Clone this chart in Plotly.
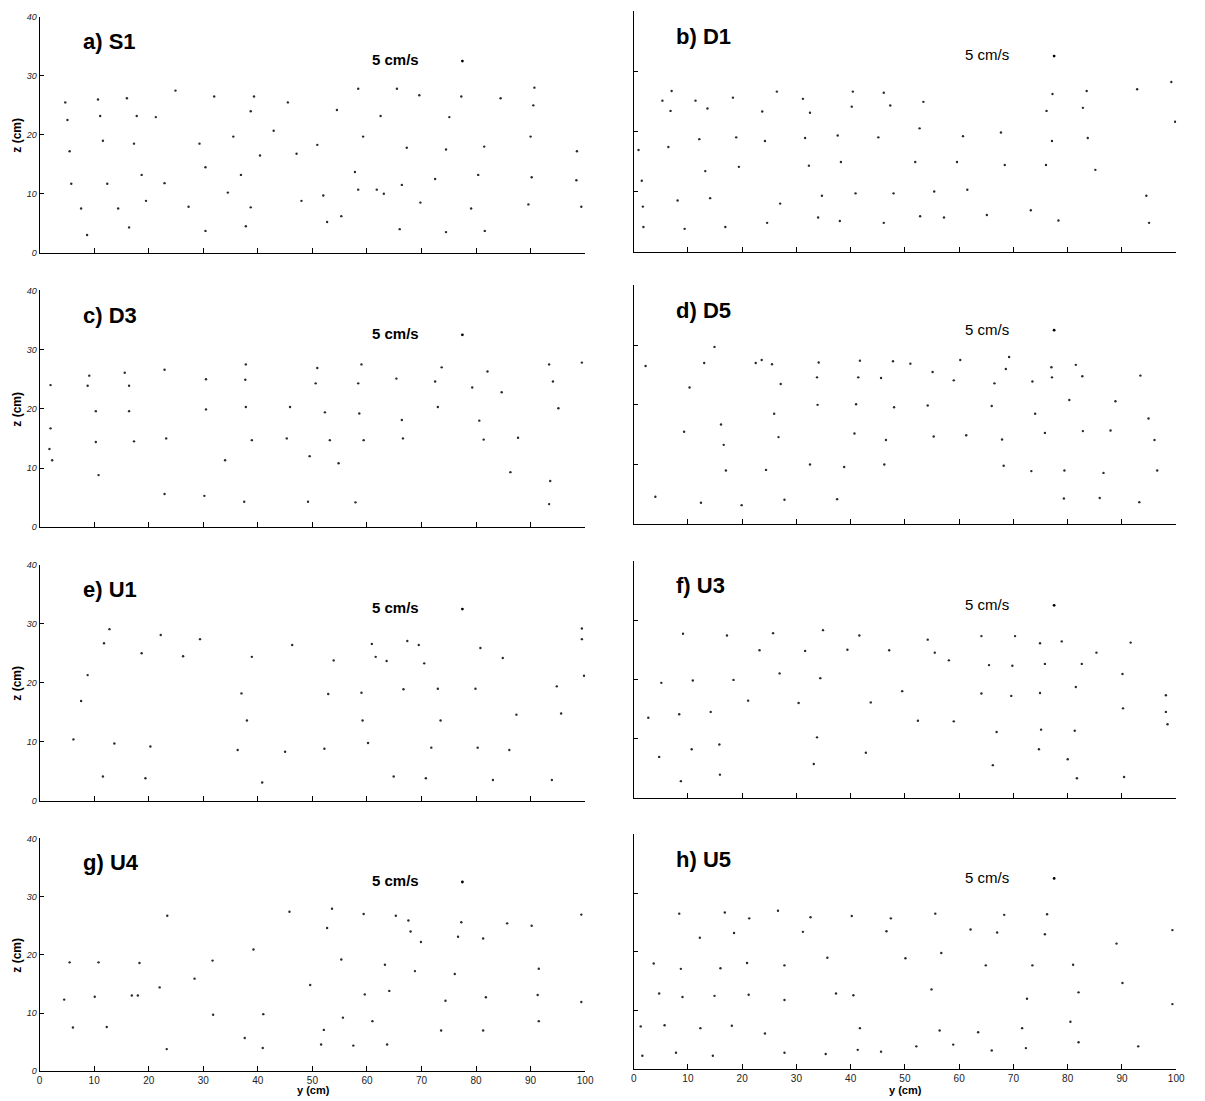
import plotly.graph_objects as go

# Measurement stations (panel label, station code)
PANELS = ["a) S1", "b) D1", "c) D3", "d) D5", "e) U1", "f) U3", "g) U4", "h) U5"]

# Cross-stream velocity vectors: (y [cm], z [cm]) of each vector base
S1 = [(4.7, 25.5), (10.7, 26), (16, 26.2), (24.9, 27.5), (32, 26.5), (39.3, 26.5), (45.5, 25.5),
      (5.1, 22.5), (11.1, 23.2), (17.8, 23.2), (21.3, 23), (38.7, 24),
      (5.5, 17.2), (11.6, 19), (17.3, 18.5), (29.3, 18.5), (35.5, 19.7), (42.9, 20.7), (40.4, 16.5),
      (47.1, 16.8), (50.9, 18.3),
      (5.8, 11.7), (12.4, 11.7), (18.7, 13.2), (22.9, 11.8), (30.4, 14.5), (36.9, 13.2), (34.5, 10.2),
      (7.6, 7.5), (14.4, 7.5), (19.5, 8.8), (27.3, 7.8), (38.7, 7.7), (48, 8.8),
      (8.7, 3), (16.4, 4.3), (30.4, 3.7), (37.8, 4.5),
      (58.4, 27.8), (65.5, 27.8), (69.6, 26.7), (77.3, 26.5), (84.5, 26.2), (90.7, 28), (90.5, 25),
      (54.5, 24.2), (62.5, 23.2), (75.1, 23),
      (59.3, 19.7), (67.3, 17.8), (74.5, 17.5), (81.5, 18), (90, 19.7), (98.5, 17.2),
      (57.8, 13.7), (72.5, 12.5), (80.4, 13.2), (90.2, 12.8), (98.4, 12.3),
      (58.4, 10.7), (61.8, 10.7), (63.1, 10), (66.4, 11.5),
      (52, 9.7), (55.3, 6.2), (52.7, 5.2), (69.8, 8.5), (79.1, 7.5), (89.6, 8.2), (99.3, 7.8),
      (66, 4), (74.5, 3.5), (81.6, 3.7)]

D1 = [(7.0, 26.7), (5.3, 25.1), (11.4, 25.1), (6.8, 23.4), (13.6, 23.8), (18.3, 25.6), (26.4, 26.6),
      (31.2, 25.4), (23.7, 23.3), (32.5, 23.1), (40.4, 26.6), (46.1, 26.4), (40.2, 24.1), (47.3, 24.3),
      (6.4, 17.4), (12.1, 18.7), (18.9, 19), (24.2, 18.4), (31.6, 18.9), (37.6, 19.3), (45.1, 19),
      (0.9, 16.9), (13.2, 13.4), (19.4, 14.1), (32.3, 14.3), (38.2, 14.9), (1.5, 11.8),
      (8.1, 8.5), (14.1, 8.9), (27, 8), (34.7, 9.3), (40.9, 9.7), (47.9, 9.7), (1.7, 7.5),
      (1.8, 4.1), (9.4, 3.8), (16.9, 4.1), (24.6, 4.8), (34, 5.7), (38, 5.1), (46.1, 4.8),
      (53.4, 24.9), (77.2, 26.2), (83.5, 26.7), (92.8, 27), (99.1, 28.2), (76.1, 23.4), (82.8, 23.9),
      (99.8, 21.6), (52.7, 20.5), (60.7, 19.2), (67.7, 19.8), (77.1, 18.4), (83.7, 18.9),
      (51.9, 14.9), (59.6, 14.9), (68.4, 14.4), (76, 14.4), (85.1, 13.6),
      (55.4, 10), (61.5, 10.3), (94.5, 9.3),
      (52.8, 5.9), (57.2, 5.7), (65.1, 6.1), (73.2, 6.9), (78.3, 5.2), (95, 4.8)]

D3 = [(9.1, 25.6), (8.8, 23.9), (2.0, 24), (15.6, 26.1), (16.4, 23.9), (22.9, 26.6), (30.5, 25),
      (37.8, 27.5), (37.7, 24.9), (50.9, 26.9), (50.6, 24.3), (59, 27.5), (58.4, 24.3), (65.4, 25.1),
      (72.5, 24.6), (73.7, 27), (79.3, 23.6), (82.1, 26.3), (84.7, 22.8), (93.4, 27.5), (94.1, 24.6),
      (99.4, 27.8),
      (2, 16.7), (1.8, 13.2), (2.3, 11.3),
      (10.3, 19.6), (16.4, 19.6), (30.5, 19.9), (37.8, 20.3), (45.9, 20.3), (52.3, 19.4), (58.6, 19.2),
      (66.4, 18.1), (73, 20.3), (80.6, 18), (95.1, 20.1),
      (10.3, 14.4), (17.3, 14.5), (23.2, 15), (38.9, 14.7), (45.3, 15), (53.2, 14.7), (59.4, 14.7),
      (66.6, 15), (81.4, 14.8), (87.7, 15.1),
      (34, 11.3), (49.5, 12), (54.8, 10.8), (10.8, 8.8), (86.3, 9.3), (93.6, 7.8),
      (22.9, 5.6), (30.2, 5.3), (37.5, 4.3), (49.2, 4.3), (57.9, 4.2), (93.4, 3.9)]

D5 = [(14.9, 29.7), (2.2, 26.5), (13, 27), (22.5, 27), (23.6, 27.5), (25.5, 26.8), (34.1, 27.1),
      (41.7, 27.4), (47.8, 27.3), (51, 26.9), (60.2, 27.5), (55.1, 25.5), (69.2, 28), (68.6, 26),
      (77, 26.3), (81.5, 26.7), (82.7, 24.8), (93.4, 24.9),
      (10.3, 22.9), (27.1, 23.5), (33.8, 24.6), (41.4, 24.6), (45.6, 24.5), (59, 24.1), (66.5, 23.6),
      (73.5, 23.9), (77.1, 24.6),
      (33.9, 20), (41, 20.1), (48, 19.6), (54.2, 19.9), (66, 19.8), (74, 18.5), (80.3, 20.8),
      (88.8, 20.6), (94.9, 17.7), (25.9, 18.5), (16.1, 16.7),
      (9.3, 15.5), (26.7, 14.6), (40.7, 15.2), (46.5, 14.1), (55.3, 14.7), (61.3, 14.9), (67.9, 14.2),
      (75.8, 15.3), (82.8, 15.6), (87.9, 15.7), (96, 14.1), (16.6, 13.3),
      (17, 9), (24.4, 9.1), (32.5, 10), (38.8, 9.6), (46.2, 10), (68.2, 9.8), (73.3, 8.9),
      (79.4, 9), (86.6, 8.6), (96.5, 9),
      (4, 4.6), (12.4, 3.6), (19.9, 3.2), (27.8, 4.1), (37.5, 4.2), (79.3, 4.3), (85.9, 4.4),
      (93.2, 3.7)]

U1 = [(12.8, 29.1), (11.8, 26.7), (8.8, 21.3), (7.6, 16.9), (6.2, 10.4), (13.7, 9.7), (20.3, 9.2),
      (11.6, 4.1), (19.4, 3.8), (18.7, 25), (22.2, 28.1), (26.3, 24.5), (29.4, 27.4), (37, 18.2),
      (38, 13.6), (38.9, 24.4), (36.3, 8.6), (40.8, 3.1), (45, 8.3), (46.3, 26.4), (53.9, 23.8),
      (52.9, 18.1), (52.2, 8.8), (59.2, 13.6), (59, 18.3), (60.2, 9.8), (60.9, 26.6), (61.6, 24.4),
      (63.6, 23.7), (64.9, 4.1), (66.7, 18.9), (67.4, 27.1), (69.5, 26.4), (70.5, 23.3), (70.8, 3.8),
      (73, 19), (73.5, 13.6), (71.8, 9), (79.9, 19), (80.3, 9), (80.8, 25.9), (83.1, 3.5),
      (84.9, 24.2), (86.1, 8.6), (87.4, 14.6), (93.9, 3.5), (94.8, 19.4), (95.6, 14.8),
      (99.4, 29.2), (99.4, 27.4), (99.8, 21.2)]

U3 = [(9.1, 27.7), (17.2, 27.4), (25.7, 27.8), (34.9, 28.3), (41.6, 27.4), (54.2, 26.7), (64.1, 27.3),
      (70.3, 27.3), (74.9, 26.1), (78.9, 26.4), (85.3, 24.5), (91.6, 26.2),
      (23.2, 24.9), (31.6, 24.8), (39.4, 25), (47.1, 24.9), (55.5, 24.5), (58.1, 23.2), (65.5, 22.4),
      (69.8, 22.3), (75.8, 22.6), (82.6, 22.6), (90.1, 20.9),
      (5.1, 19.4), (10.9, 19.8), (18.4, 19.9), (26.9, 21), (34.4, 20.2), (49.5, 18), (64.1, 17.6),
      (69.6, 17.2), (74.9, 17.7), (81.5, 18.7), (98.1, 17.3),
      (2.7, 13.5), (8.4, 14.1), (14.2, 14.5), (21.1, 16.4), (30.4, 16), (43.7, 16.1), (52.4, 13),
      (59, 12.9), (66.9, 11.1), (75.1, 11.5), (81.3, 11.3), (90.2, 15.1), (98.1, 14.5), (98.4, 12.4),
      (4.7, 6.9), (10.7, 8.2), (15.8, 9), (33.8, 10.2), (42.8, 7.6), (33.2, 5.7), (66.2, 5.5),
      (74.7, 8.2), (80, 6.5), (8.7, 2.8), (15.9, 3.9), (81.7, 3.3), (90.4, 3.5)]

U4 = [(23.4, 26.7), (45.8, 27.4), (5.5, 18.7), (10.8, 18.7), (18.3, 18.6), (31.7, 19), (39.2, 20.9),
      (4.5, 12.3), (10.1, 12.8), (16.9, 13), (18, 13), (22, 14.4), (28.4, 15.9), (49.6, 14.8),
      (6.1, 7.5), (12.3, 7.6), (31.8, 9.7), (41, 9.8), (37.6, 5.7), (40.9, 4), (23.3, 3.8),
      (53.6, 27.9), (59.4, 27), (65.3, 26.7), (67.6, 25.9), (52.7, 24.6), (68, 24), (69.9, 22.2),
      (77.3, 25.6), (85.7, 25.4), (90.2, 25), (99.3, 26.9), (76.7, 23.1), (81.3, 22.8),
      (55.3, 19.2), (63.3, 18.3), (68.8, 17.2), (76.1, 16.7), (91.5, 17.6),
      (59.6, 13.2), (64.1, 13.8), (74.4, 12.1), (81.8, 12.7), (91.3, 13.1), (99.3, 11.9),
      (55.6, 9.2), (61, 8.6), (91.5, 8.6), (52.1, 7.1), (73.6, 7), (81.3, 7),
      (51.6, 4.6), (57.5, 4.4), (63.7, 4.6)]

U5 = [(8.4, 26.5), (16.8, 26.7), (21.3, 25.7), (26.6, 27), (32.6, 25.9), (40.2, 26.1), (47.4, 25.7),
      (12.2, 22.4), (18.5, 23.2), (31.2, 23.4), (46.6, 23.5),
      (3.7, 18), (8.7, 17.1), (16, 17.2), (20.9, 18.1), (27.8, 17.7), (35.7, 19), (50.1, 18.9),
      (4.7, 12.9), (9, 12.3), (14.9, 12.5), (21.2, 12.7), (27.8, 11.8), (37.3, 12.9), (40.5, 12.6),
      (1.3, 7.3), (5.7, 7.5), (12.3, 7), (18.1, 7.4), (24.2, 6.1), (41.7, 7),
      (1.6, 2.3), (7.8, 2.8), (14.6, 2.3), (27.8, 2.8), (35.4, 2.6), (41.3, 3.3), (45.6, 3),
      (55.6, 26.5), (68.3, 26.3), (76.2, 26.4), (62.1, 23.8), (67, 23.3), (75.8, 23), (99.3, 23.7),
      (56.7, 19.8), (89, 21.4), (64.9, 17.7), (73.5, 17.7), (81, 17.8),
      (54.9, 13.6), (72.5, 12), (82, 13.1), (90.1, 14.7), (99.3, 11.1),
      (56.4, 6.6), (63.5, 6.3), (71.6, 7), (80.5, 8.1),
      (58.9, 4.2), (66, 3.2), (72.3, 3.6), (82, 4.6), (93, 3.9), (52.1, 3.9)]

# Reference vector (5 cm/s) location and its caption position
REF_Y, REF_Z = 77.5, 32.5
REF_TEXT_Y, REF_TEXT_Z = 65.2, 32.7
REF_TEXT = "5 cm/s"

Y_TICKS = [0, 10, 20, 30, 40, 50, 60, 70, 80, 90, 100]
Z_TICKS = [0, 10, 20, 30, 40]

DATA = [S1, D1, D3, D5, U1, U3, U4, U5]

W, H = 1205, 1101
FONT = "Liberation Sans, Arial, sans-serif"

# pixel frames of each panel: (left, right, top, bottom)
LEFT_X = (37, 588)
RIGHT_X = (637, 1185)
ROWS_L = [(12, 250), (288, 527), (565, 803), (841, 1076)]
ROWS_R = [(6, 249), (283, 524), (561, 800), (837, 1074)]

fig = go.Figure()
layout = dict(
    width=W, height=H, margin=dict(l=0, r=0, t=0, b=0),
    paper_bgcolor="white", plot_bgcolor="white", showlegend=False,
    font=dict(family=FONT, color="black"),
)
annotations = []

for i, (label, pts) in enumerate(zip(PANELS, DATA)):
    n = i + 1
    row, col = divmod(i, 2)
    xl, xr = LEFT_X if col == 0 else RIGHT_X
    top, bot = (ROWS_L if col == 0 else ROWS_R)[row]
    xa = "x" if n == 1 else f"x{n}"
    ya = "y" if n == 1 else f"y{n}"
    bottom_row = row == 3

    ys = [p[0] for p in pts]
    zs = [p[1] for p in pts]
    fig.add_trace(go.Scatter(
        x=ys, y=zs, mode="markers", xaxis=xa, yaxis=ya,
        marker=dict(size=2.4, color="#2a2a2a", line=dict(width=0)),
        hoverinfo="skip"))
    fig.add_trace(go.Scatter(
        x=[REF_Y], y=[REF_Z], mode="markers", xaxis=xa, yaxis=ya,
        marker=dict(size=2.8, color="black", line=dict(width=0)), hoverinfo="skip"))

    layout[f"xaxis{'' if n == 1 else n}"] = dict(
        domain=[xl / W, xr / W], range=[0, 100], anchor=ya,
        showline=True, linecolor="black", linewidth=1.2,
        ticks="inside", ticklen=5, tickwidth=1, tickcolor="black",
        tickvals=Y_TICKS if bottom_row else Y_TICKS[1:],
        showticklabels=bottom_row,
        tickfont=dict(size=10, color="#222", family=FONT),
        showgrid=False, zeroline=False, fixedrange=True,
    )
    layout[f"yaxis{'' if n == 1 else n}"] = dict(
        domain=[1 - bot / H, 1 - top / H], range=[0, 40], anchor=xa,
        showline=True, linecolor="black", linewidth=1.2,
        ticks="inside", ticklen=4, tickwidth=1, tickcolor="black",
        tickvals=Z_TICKS, showticklabels=(col == 0),
        tickfont=dict(size=9, color="#222", family=FONT, style="italic"),
        showgrid=False, zeroline=False, fixedrange=True,
    )

    # panel label
    annotations.append(dict(
        x=7.5, y=35.8, xref=xa, yref=ya, text=f"<b>{label}</b>", showarrow=False,
        xanchor="left", yanchor="middle", font=dict(size=22, family=FONT, color="black")))
    # reference vector caption
    cap = f"<b>{REF_TEXT}</b>" if col == 0 else REF_TEXT
    annotations.append(dict(
        x=REF_TEXT_Y, y=REF_TEXT_Z, xref=xa, yref=ya, text=cap, showarrow=False,
        xanchor="center", yanchor="middle", font=dict(size=15, family=FONT, color="black")))
    # axis titles
    if col == 0:
        annotations.append(dict(
            x=14 / W, y=1 - ((top + bot) / 2) / H, xref="paper", yref="paper",
            text="<b>z (cm)</b>", textangle=-90, showarrow=False,
            xanchor="center", yanchor="middle", font=dict(size=12, family=FONT)))
    if bottom_row:
        annotations.append(dict(
            x=((xl + xr) / 2 + 1) / W, y=0, xref="paper", yref="paper",
            text="<b>y (cm)</b>", showarrow=False,
            xanchor="center", yanchor="bottom", yshift=-2,
            font=dict(size=11, family=FONT)))

layout["annotations"] = annotations
fig.update_layout(**layout)
fig.write_html("out.html")
